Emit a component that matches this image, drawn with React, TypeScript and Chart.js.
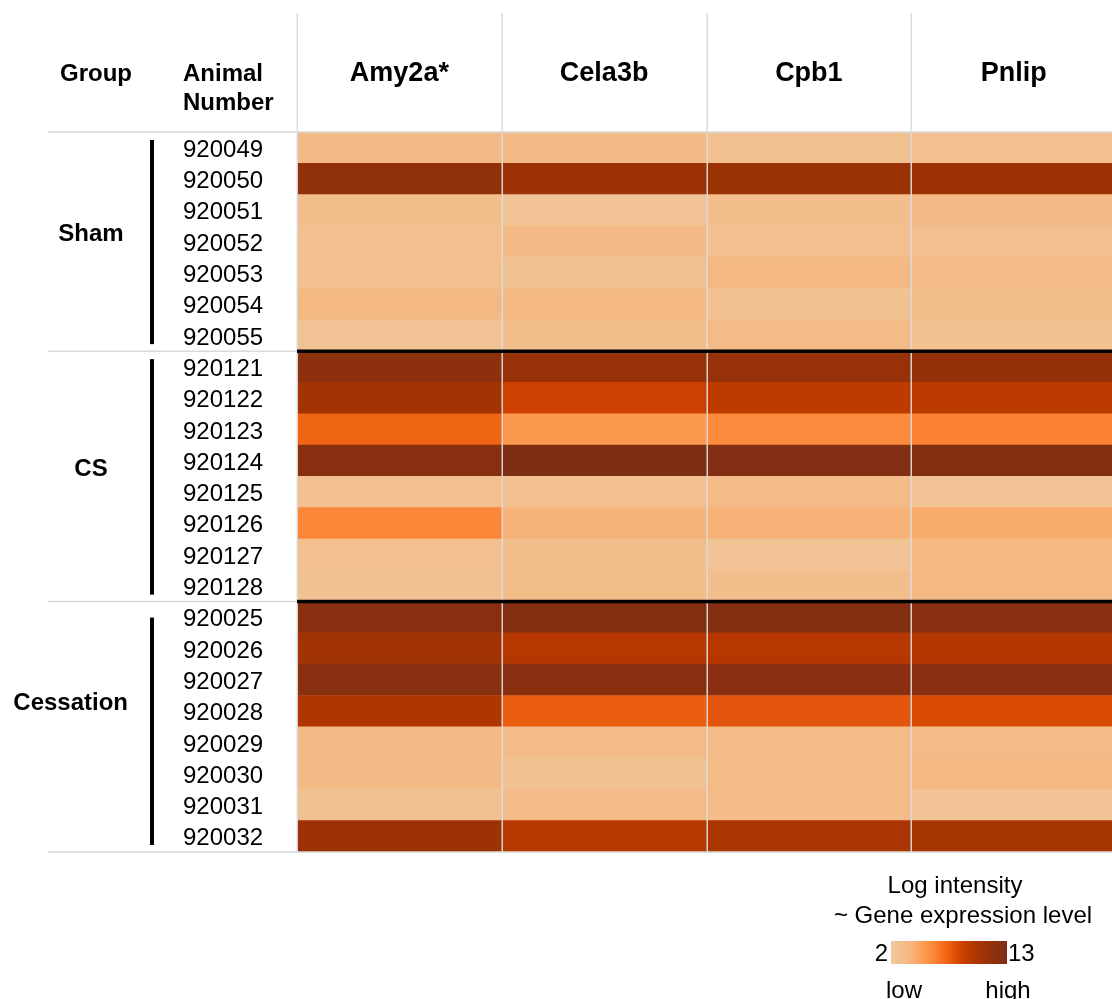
import { useEffect, useRef } from "react";
import { Chart, registerables } from "chart.js";

Chart.register(...registerables);

// ---------------- data ----------------
const genes = ["Amy2a*", "Cela3b", "Cpb1", "Pnlip"];
const animals = [
  "920049", "920050", "920051", "920052", "920053", "920054", "920055",
  "920121", "920122", "920123", "920124", "920125", "920126", "920127", "920128",
  "920025", "920026", "920027", "920028", "920029", "920030", "920031", "920032",
];
const groups = ["Sham", "CS", "Cessation"];
const groupSizes = [7, 8, 8];

const amy2a = [
  3.4, 11.6, 3.1, 3.0, 3.0, 3.5, 2.7,
  11.9, 10.6, 7.3, 12.2, 3.0, 6.0, 3.0, 2.8,
  12.2, 10.6, 12.2, 10.0, 3.4, 3.4, 2.8, 10.9,
];
const cela3b = [
  3.4, 10.9, 2.7, 3.4, 2.8, 3.5, 3.1,
  11.2, 8.8, 5.2, 12.8, 3.0, 3.8, 3.1, 3.2,
  12.5, 9.7, 12.1, 7.6, 3.3, 2.8, 3.3, 9.7,
];
const cpb1 = [
  2.8, 11.0, 3.1, 3.0, 3.5, 2.8, 3.3,
  11.3, 9.4, 5.8, 12.6, 3.3, 4.0, 2.6, 3.1,
  12.4, 9.7, 12.1, 7.9, 3.3, 3.3, 3.3, 10.2,
];
const pnlip = [
  2.9, 10.9, 3.4, 2.9, 3.3, 3.2, 2.8,
  11.4, 9.5, 6.2, 12.5, 2.7, 4.3, 3.5, 3.5,
  12.3, 9.8, 12.2, 8.3, 3.3, 3.5, 2.7, 10.4,
];
const series = [amy2a, cela3b, cpb1, pnlip];

const scaleMin = 2;
const scaleMax = 13;
const legendTitle = ["Log intensity", "~ Gene expression level"];
const legendEnds = ["low", "high"];
const headerGroup = "Group";
const headerAnimal = ["Animal", "Number"];

// ---------------- colour map (style) ----------------
const cmapStops: [number, number, number, number][] = [
  [0.0, 240, 200, 160],
  [0.1, 242, 190, 140],
  [0.2, 248, 175, 115],
  [0.3, 253, 150, 75],
  [0.4, 250, 125, 45],
  [0.5, 236, 96, 15],
  [0.6, 210, 66, 0],
  [0.7, 182, 56, 0],
  [0.8, 158, 50, 4],
  [0.9, 140, 48, 14],
  [1.0, 125, 45, 20],
];

function cmap(t: number): string {
  const tt = Math.max(0, Math.min(1, t));
  for (let i = 0; i < cmapStops.length - 1; i++) {
    const a = cmapStops[i];
    const b = cmapStops[i + 1];
    if (tt >= a[0] && tt <= b[0]) {
      const f = (tt - a[0]) / (b[0] - a[0]);
      const r = Math.round(a[1] + (b[1] - a[1]) * f);
      const g = Math.round(a[2] + (b[2] - a[2]) * f);
      const bl = Math.round(a[3] + (b[3] - a[3]) * f);
      return `rgb(${r},${g},${bl})`;
    }
  }
  const l = cmapStops[cmapStops.length - 1];
  return `rgb(${l[1]},${l[2]},${l[3]})`;
}
const colorFor = (v: number) => cmap((v - scaleMin) / (scaleMax - scaleMin));

const FONT = '"Liberation Sans", Arial, Helvetica, sans-serif';
const GROUP_LABEL_Y = [234, 469, 703];

const overlayPlugin = {
  id: "heatmapOverlay",
  afterDraw(chart: any) {
    const ctx: CanvasRenderingContext2D = chart.ctx;
    const xS = chart.scales.x;
    const yS = chart.scales.y;
    const area = chart.chartArea;
    const rowH = yS.getPixelForValue(1) - yS.getPixelForValue(0);
    const rowTop = (i: number) => yS.getPixelForValue(i) - rowH / 2;
    const leftEdge = 48;
    const headerTop = 13;

    ctx.save();

    // vertical grey column lines
    ctx.strokeStyle = "rgba(218,218,218,0.95)";
    ctx.lineWidth = 1.5;
    for (let g = 0; g < genes.length; g++) {
      const x = Math.round(xS.getPixelForValue(g)) + 0.25;
      ctx.beginPath();
      ctx.moveTo(x, headerTop);
      ctx.lineTo(x, area.bottom);
      ctx.stroke();
    }

    // group boundaries
    const bounds: number[] = [0];
    let acc = 0;
    groupSizes.forEach((s) => {
      acc += s;
      bounds.push(acc);
    });
    ctx.strokeStyle = "#d9d9d9";
    ctx.lineWidth = 1.5;
    bounds.forEach((b, bi) => {
      const y = b === animals.length ? area.bottom : rowTop(b);
      const inner = bi > 0 && bi < bounds.length - 1;
      ctx.beginPath();
      ctx.moveTo(leftEdge, y);
      ctx.lineTo(inner ? area.left : area.right, y);
      ctx.stroke();
    });
    ctx.strokeStyle = "#000";
    ctx.lineWidth = 3.5;
    bounds.forEach((b, bi) => {
      if (bi === 0 || bi === bounds.length - 1) return;
      const y = rowTop(b);
      ctx.beginPath();
      ctx.moveTo(area.left, y);
      ctx.lineTo(area.right, y);
      ctx.stroke();
    });

    // group vertical bars and labels
    ctx.fillStyle = "#000";
    ctx.textBaseline = "middle";
    groups.forEach((gname, gi) => {
      const top = rowTop(bounds[gi]);
      const bottom = bounds[gi + 1] === animals.length ? area.bottom : rowTop(bounds[gi + 1]);
      ctx.strokeStyle = "#000";
      ctx.lineWidth = 4;
      ctx.beginPath();
      ctx.moveTo(152, top + (gi === 2 ? 16 : 8));
      ctx.lineTo(152, bottom - 7);
      ctx.stroke();

      ctx.font = `bold 24px ${FONT}`;
      ctx.textAlign = "center";
      const w = ctx.measureText(gname).width;
      const cx = Math.min(91, 128 - w / 2);
      ctx.fillText(gname, cx, GROUP_LABEL_Y[gi]);
    });

    // animal numbers
    ctx.font = `24px ${FONT}`;
    ctx.textAlign = "left";
    animals.forEach((a, i) => {
      ctx.fillText(a, 183, yS.getPixelForValue(i) + 2.5);
    });

    // headers
    ctx.font = `bold 24px ${FONT}`;
    ctx.textAlign = "center";
    ctx.fillText(headerGroup, 96, 74);
    ctx.textAlign = "left";
    ctx.fillText(headerAnimal[0], 183, 74);
    ctx.fillText(headerAnimal[1], 183, 103);
    ctx.font = `bold 27px ${FONT}`;
    ctx.textAlign = "center";
    genes.forEach((g, gi) => {
      const cx = (xS.getPixelForValue(gi) + xS.getPixelForValue(gi + 1)) / 2;
      ctx.fillText(g, cx, 74);
    });

    // legend
    ctx.font = `24px ${FONT}`;
    ctx.textAlign = "center";
    ctx.fillText(legendTitle[0], 955, 886);
    ctx.fillText(legendTitle[1], 963, 916);
    const bx0 = 891, bx1 = 1007, by0 = 941, by1 = 964;
    const grad = ctx.createLinearGradient(bx0, 0, bx1, 0);
    for (let k = 0; k <= 20; k++) {
      grad.addColorStop(k / 20, cmap(k / 20));
    }
    ctx.fillStyle = grad;
    ctx.fillRect(bx0, by0, bx1 - bx0, by1 - by0);
    ctx.fillStyle = "#000";
    ctx.textAlign = "right";
    ctx.fillText(String(scaleMin), 888, 954);
    ctx.textAlign = "left";
    ctx.fillText(String(scaleMax), 1008, 954);
    ctx.textAlign = "center";
    ctx.fillText(legendEnds[0], 904, 991);
    ctx.fillText(legendEnds[1], 1008, 991);

    ctx.restore();
  },
};

const CANVAS_W = 1116;
const CANVAS_H = 999;

export default function App() {
  const ref = useRef<HTMLCanvasElement | null>(null);
  useEffect(() => {
    if (!ref.current) return;
    const chart = new Chart(ref.current, {
      type: "bar",
      data: {
        labels: animals,
        datasets: genes.map((g, gi) => ({
          label: g,
          data: animals.map(() => [gi, gi + 1]) as any,
          backgroundColor: series[gi].map((v) => colorFor(v)),
          borderWidth: 0,
          barPercentage: 1,
          categoryPercentage: 1,
          grouped: false,
        })),
      },
      options: {
        indexAxis: "y",
        responsive: false,
        animation: false,
        devicePixelRatio: 1,
        layout: { padding: { left: 297, right: 0, top: 132, bottom: 147 } },
        scales: {
          x: { type: "linear", min: 0, max: 4, display: false },
          y: { type: "category", display: false, offset: true },
        },
        plugins: {
          legend: { display: false },
          tooltip: { enabled: false },
        },
      },
      plugins: [overlayPlugin],
    });
    return () => chart.destroy();
  }, []);
  return (
    <div style={{ position: "fixed", left: 0, top: 0, width: 1112, height: 999, overflow: "hidden", background: "#fff" }}>
      <canvas ref={ref} width={CANVAS_W} height={CANVAS_H} style={{ display: "block" }} />
    </div>
  );
}
